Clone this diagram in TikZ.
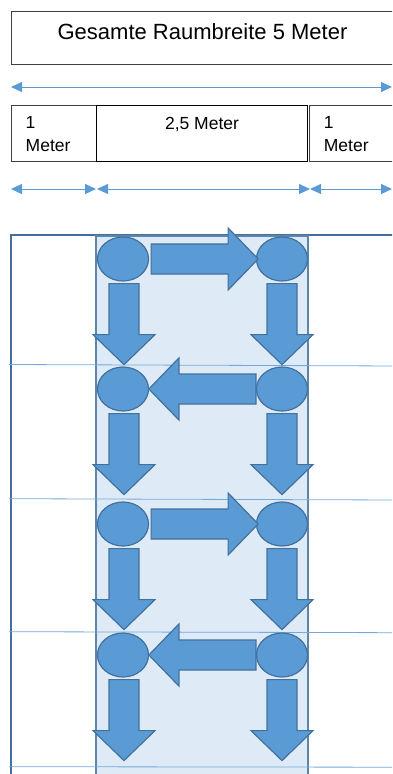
\documentclass[tikz,border=0pt]{standalone}
\usepackage{fontspec}
\setmainfont{Liberation Sans}
\usetikzlibrary{arrows.meta,shapes.geometric}

\definecolor{officeblue}{HTML}{5B9BD5}
\definecolor{officeedge}{HTML}{41719C}
\definecolor{columnfill}{HTML}{DEEBF7}
\definecolor{boxedge}{HTML}{404040}

\begin{document}
\begin{tikzpicture}[x=1pt,y=-1pt,
  boxframe/.style={draw=boxedge,line width=0.8pt},
  dimline/.style={draw=officeblue,line width=1pt,{Triangle[length=11pt,width=10pt]}-{Triangle[length=11pt,width=10pt]}},
  spot/.style={ellipse,fill=officeblue,draw=officeedge,line width=1.2pt,minimum width=51pt,minimum height=44pt,inner sep=0pt},
  lane/.style={draw=officeblue!85,line width=0.8pt},
  pics/fatarrow/.style={code={
    \draw[fill=officeblue,draw=officeedge,line width=1.2pt,line join=miter]
      (0,-15) -- (#1-30,-15) -- (#1-30,-31) -- (#1,0) -- (#1-30,31) -- (#1-30,15) -- (0,15) -- cycle;}}]
\useasboundingbox (0,0) rectangle (392,774);
\clip (0,0) rectangle (392,774);

% Kopfzeile
\draw[boxframe] (11,11) rectangle (394,64);
\node[anchor=base,font=\fontsize{22}{26}\selectfont] (titel) at (202.5,39.3) {Gesamte Raumbreite 5 Meter};

\coordinate (gesamtL) at (11,87);
\coordinate (gesamtR) at (392,87);
\draw[dimline] (gesamtL) -- (gesamtR);

% Aufteilung
\draw[boxframe] (11,105) rectangle (96.7,161);
\draw[boxframe,draw=black] (96.7,105) rectangle (307.3,161);
\draw[boxframe] (309.3,105) rectangle (396,161);
\node[anchor=base west,align=left,inner sep=0pt,font=\fontsize{17.5}{23.4}\selectfont] (links) at (25.5,151.7) {1\\Meter};
\node[anchor=base,inner sep=0pt,font=\fontsize{17.5}{23.4}\selectfont] (mitte) at (202,129) {2,5 Meter};
\node[anchor=base west,align=left,inner sep=0pt,font=\fontsize{17.5}{23.4}\selectfont] (rechts) at (323.7,151.7) {1\\Meter};

\coordinate (teilA) at (11,189);
\coordinate (teilB) at (96,189);
\coordinate (teilC) at (310,189);
\coordinate (teilD) at (392,189);
\draw[dimline] (teilA) -- (teilB);
\draw[dimline] ([xshift=1pt]teilB) -- (teilC);
\draw[dimline] (teilC) -- (teilD);

% Raum und Laufbahn
\draw[draw=officeedge,line width=1.5pt] (11,800) -- (11,235) -- (400,235);
\draw[fill=columnfill,draw=officeedge!85,line width=1.2pt] (96,800) rectangle (308,236);
\foreach \ya/\yb in {364.5/366,498.7/500,631.7/632.7,766.7/767.2}
  {\draw[lane] (9,\ya) -- (400,\yb);}

% Stationen und Pfeile
\foreach \r/\y/\dir in {1/259/1,2/389/-1,3/524/1,4/655/-1}
{
  \node[spot] (L\r) at (123,\y) {};
  \node[spot] (R\r) at (282,\y) {};
  \ifnum\dir=1
    \pic at ([xshift=2pt]L\r.east) {fatarrow=107};
  \else
    \pic[rotate=180] at (R\r.west) {fatarrow=107};
  \fi
  \pic[rotate=-90] at ([xshift=1pt,yshift=-2pt]L\r.south) {fatarrow=81};
  \pic[rotate=-90] at ([yshift=-2pt]R\r.south) {fatarrow=81};
}
\end{tikzpicture}
\end{document}
